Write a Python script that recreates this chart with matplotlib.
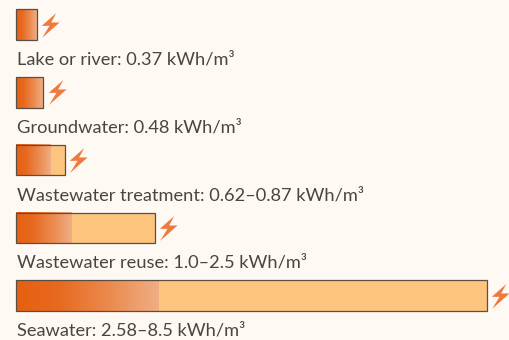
"""Energy needed to supply water from different sources, as gradient bars."""

import numpy as np
import matplotlib
matplotlib.use("Agg")
import matplotlib.pyplot as plt
from matplotlib.colors import LinearSegmentedColormap
from matplotlib.path import Path

# ── Data ─────────────────────────────────────────────────────────────────────
sources = ["Lake or river", "Groundwater", "Wastewater treatment",
           "Wastewater reuse", "Seawater"]
low_kwh = [0.37, 0.48, 0.62, 1.0, 2.58]
high_kwh = [0.37, 0.48, 0.87, 2.5, 8.5]
range_text = ["0.37", "0.48", "0.62–0.87", "1.0–2.5", "2.58–8.5"]

# ── Style ────────────────────────────────────────────────────────────────────
BG = "#FFF9F3"
FLAT = "#FDC47D"
EDGE = "#5A4E44"
TEXT = "#4A4542"
BOLT = "#EF7A3E"
BAR_H = 0.45
BOLT_GAP = 0.244   # bar end to bolt centre, in kWh/m3
LABEL_DROP = 40    # bar centre to label baseline, in pixels

fade = LinearSegmentedColormap.from_list(
    "fade", [(0, "#E65F10"), (0.3, "#E76A20"), (0.65, "#EB8A4E"), (1, "#F0AE84")])
bolt_path = Path([(170, -40), (127, -78), (150, -78), (128, -114), (180, -68),
                  (155, -68), (170, -40)], closed=True)
bolt_path = Path(bolt_path.vertices - [153, -77], closed=True)

plt.rcParams["font.family"] = ["Lato", "DejaVu Sans"]

fig = plt.figure(figsize=(5.1, 3.4), dpi=100, facecolor=BG)
ax = fig.add_axes([0, 0, 1, 1], facecolor=BG)

for i, (name, low, high, txt) in enumerate(zip(sources, low_kwh, high_kwh, range_text)):
    # flat part is the range, gradient runs up to the low value
    ax.barh(i, high, height=BAR_H, left=0, color=FLAT, edgecolor="none", zorder=1)
    ax.imshow(np.linspace(0, 1, 256)[None, :], cmap=fade, aspect="auto", zorder=2,
              extent=(0, low, i + BAR_H / 2, i - BAR_H / 2))
    ax.barh(i, high, height=BAR_H, left=0, color="none", edgecolor=EDGE,
            linewidth=0.9, zorder=3)
    ax.scatter(high + BOLT_GAP, i, marker=bolt_path, s=320, color=BOLT,
               linewidths=0, zorder=3)
    ax.annotate(f"{name}: {txt} kWh/m³", (0, i), xytext=(0.5, -LABEL_DROP),
                textcoords="offset pixels", va="baseline", ha="left",
                fontsize=13.15, color=TEXT)

ax.set_xlim(-0.298, 8.924)
ax.set_ylim(4.657, -0.365)
ax.axis("off")

fig.savefig("out.png", dpi=100, facecolor=BG)
